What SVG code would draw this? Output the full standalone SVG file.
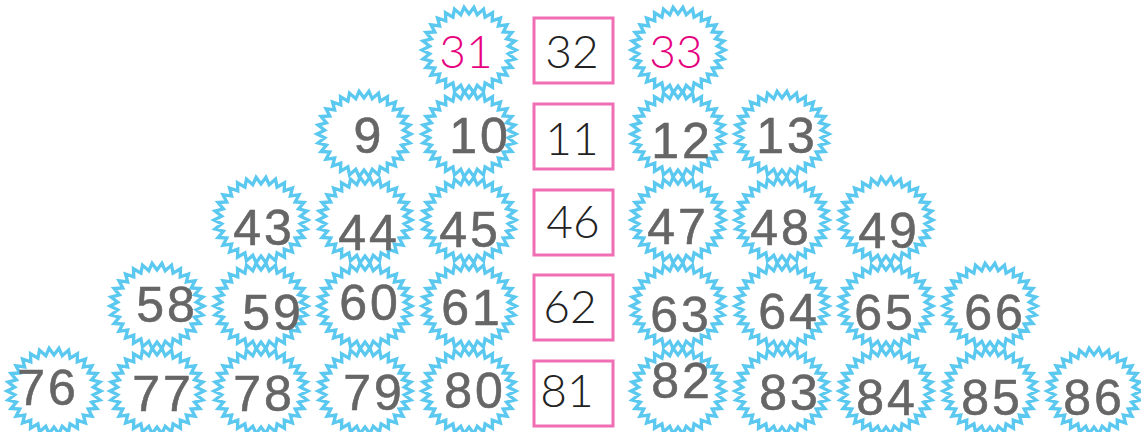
<svg xmlns="http://www.w3.org/2000/svg" xmlns:xlink="http://www.w3.org/1999/xlink" width="1141" height="432" viewBox="0 0 1141 432">
<style>
.b{fill:none;stroke:#5bc8f0;stroke-width:3.3;stroke-linejoin:miter}
.box{fill:#fff;stroke:#f06eb4;stroke-width:3}
.h{font-family:"Liberation Sans","DejaVu Sans",sans-serif;font-weight:normal;font-size:50px;fill:#666;stroke:#666;stroke-width:0.6px;stroke-linejoin:round;text-anchor:middle;letter-spacing:3px}
.c{font-family:"Lato","Liberation Sans",sans-serif;font-weight:300;font-size:46px;fill:#222;text-anchor:middle}
.p{fill:#e6007e}
</style>
<defs>
<path id="burst" d="M47,0 L39.28,3.76 L45.97,8.94 L37.57,11.12 L42.93,17.49 L34.21,18 L38.02,25.28 L29.35,24.09 L31.45,31.95 L23.22,29.12 L23.5,37.24 L16.06,32.89 L14.52,40.9 L8.21,35.21 L4.91,42.76 L0,36 L-4.91,42.76 L-8.21,35.21 L-14.52,40.9 L-16.06,32.89 L-23.5,37.24 L-23.22,29.12 L-31.45,31.95 L-29.35,24.09 L-38.02,25.28 L-34.21,18 L-42.93,17.49 L-37.57,11.12 L-45.97,8.94 L-39.28,3.76 L-47,0 L-39.28,-3.76 L-45.97,-8.94 L-37.57,-11.12 L-42.93,-17.49 L-34.21,-18 L-38.02,-25.28 L-29.35,-24.09 L-31.45,-31.95 L-23.22,-29.12 L-23.5,-37.24 L-16.06,-32.89 L-14.52,-40.9 L-8.21,-35.21 L-4.91,-42.76 L0,-36 L4.91,-42.76 L8.21,-35.21 L14.52,-40.9 L16.06,-32.89 L23.5,-37.24 L23.22,-29.12 L31.45,-31.95 L29.35,-24.09 L38.02,-25.28 L34.21,-18 L42.93,-17.49 L37.57,-11.12 L45.97,-8.94 L39.28,-3.76 Z"/>
</defs>
<g id="connectors"></g>
<!-- Row 1 -->
<g id="n31"><use xlink:href="#burst" class="b" x="469" y="50"/><text class="c p" x="466" y="68">31</text></g>
<g id="n32"><rect class="box" x="534" y="18" width="79" height="65"/><text class="c" x="572" y="68">32</text></g>
<g id="n33"><use xlink:href="#burst" class="b" x="678" y="50"/><text class="c p" x="676" y="68">33</text></g>
<!-- Row 2 -->
<g id="n9"><use xlink:href="#burst" class="b" x="364" y="134"/><text class="h" x="369" y="153">9</text></g>
<g id="n10"><use xlink:href="#burst" class="b" x="469" y="134"/><text class="h" x="480" y="153">10</text></g>
<g id="n11"><rect class="box" x="534" y="104" width="79" height="65"/><text class="c" x="572" y="155">11</text></g>
<g id="n12"><use xlink:href="#burst" class="b" x="678" y="134"/><text class="h" x="682" y="158">12</text></g>
<g id="n13"><use xlink:href="#burst" class="b" x="782" y="134"/><text class="h" x="787" y="153">13</text></g>
<!-- Row 3 -->
<g id="n43"><use xlink:href="#burst" class="b" x="261" y="220"/><text class="h" x="264" y="245">43</text></g>
<g id="n44"><use xlink:href="#burst" class="b" x="365" y="220"/><text class="h" x="369" y="250">44</text></g>
<g id="n45"><use xlink:href="#burst" class="b" x="469" y="220"/><text class="h" x="470" y="247">45</text></g>
<g id="n46"><rect class="box" x="534" y="190" width="79" height="65"/><text class="c" x="573" y="238">46</text></g>
<g id="n47"><use xlink:href="#burst" class="b" x="678" y="220"/><text class="h" x="678" y="244">47</text></g>
<g id="n48"><use xlink:href="#burst" class="b" x="782" y="220"/><text class="h" x="781" y="245">48</text></g>
<g id="n49"><use xlink:href="#burst" class="b" x="886" y="220"/><text class="h" x="889" y="248">49</text></g>
<!-- Row 4 -->
<g id="n58"><use xlink:href="#burst" class="b" x="157" y="306"/><text class="h" x="167" y="322">58</text></g>
<g id="n59"><use xlink:href="#burst" class="b" x="261" y="306"/><text class="h" x="273" y="330">59</text></g>
<g id="n60"><use xlink:href="#burst" class="b" x="365" y="306"/><text class="h" x="370" y="320">60</text></g>
<g id="n61"><use xlink:href="#burst" class="b" x="469" y="306"/><text class="h" x="472" y="325">61</text></g>
<g id="n62"><rect class="box" x="534" y="275" width="79" height="65"/><text class="c" x="570" y="323">62</text></g>
<g id="n63"><use xlink:href="#burst" class="b" x="678" y="306"/><text class="h" x="681" y="332">63</text></g>
<g id="n64"><use xlink:href="#burst" class="b" x="782" y="306"/><text class="h" x="789" y="329">64</text></g>
<g id="n65"><use xlink:href="#burst" class="b" x="886" y="306"/><text class="h" x="885" y="330">65</text></g>
<g id="n66"><use xlink:href="#burst" class="b" x="990" y="306"/><text class="h" x="995" y="330">66</text></g>
<!-- Row 5 -->
<g id="n76"><use xlink:href="#burst" class="b" x="54" y="391"/><text class="h" x="48" y="405">76</text></g>
<g id="n77"><use xlink:href="#burst" class="b" x="157" y="391"/><text class="h" x="163" y="411">77</text></g>
<g id="n78"><use xlink:href="#burst" class="b" x="261" y="391"/><text class="h" x="264" y="411">78</text></g>
<g id="n79"><use xlink:href="#burst" class="b" x="365" y="391"/><text class="h" x="374" y="410">79</text></g>
<g id="n80"><use xlink:href="#burst" class="b" x="469" y="391"/><text class="h" x="475" y="408">80</text></g>
<g id="n81"><rect class="box" x="534" y="361" width="79" height="65"/><text class="c" x="567" y="407">81</text></g>
<g id="n82"><use xlink:href="#burst" class="b" x="678" y="391"/><text class="h" x="682" y="398">82</text></g>
<g id="n83"><use xlink:href="#burst" class="b" x="782" y="391"/><text class="h" x="790" y="410">83</text></g>
<g id="n84"><use xlink:href="#burst" class="b" x="886" y="391"/><text class="h" x="887" y="415">84</text></g>
<g id="n85"><use xlink:href="#burst" class="b" x="990" y="391"/><text class="h" x="992" y="415">85</text></g>
<g id="n86"><use xlink:href="#burst" class="b" x="1094" y="391"/><text class="h" x="1094" y="415">86</text></g>
</svg>
